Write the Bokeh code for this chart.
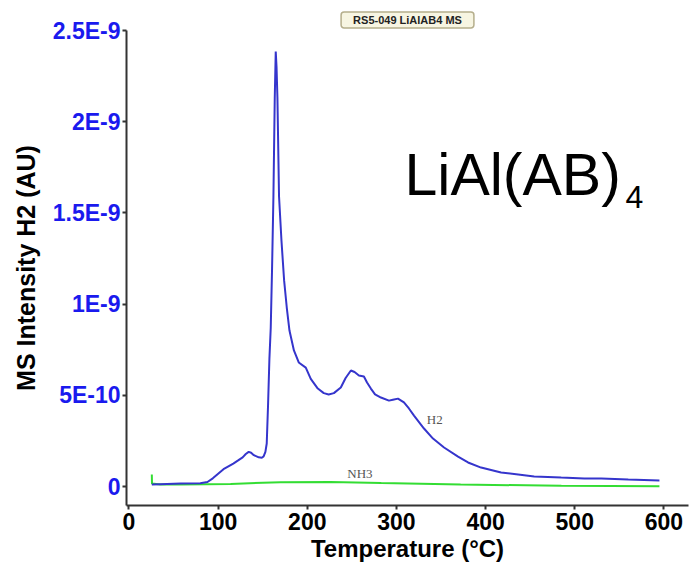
import numpy as np
from bokeh.plotting import figure
from bokeh.models import Range1d, FixedTicker, Label
from bokeh.embed import file_html
from bokeh.resources import INLINE

# ---- data ----
temp_h2 = [25.6, 35, 58, 80, 88, 94, 100, 106, 112, 117, 122, 127.5, 131,
           134.3, 137, 140, 145.5, 149, 151, 153, 154.5, 156, 157.5, 159,
           160.5, 162, 163.5, 164.6, 165.5, 166.5, 168.3, 171, 174, 177, 180,
           185, 190.4, 198.3, 203.9, 211.8, 218.5, 224, 229.8, 237.6, 243,
           248.9, 253, 257.9, 263.5, 267, 271.3, 276, 282.6, 291.6, 296,
           301.7, 308.4, 314, 319.7, 330.9, 341, 353.4, 369.1, 380.3, 394.9,
           417.4, 436.5, 454.5, 484.8, 510.7, 529.8, 560, 595]
h2_nano = [0.011, 0.013, 0.016, 0.018, 0.025, 0.045, 0.07, 0.095, 0.112,
           0.126, 0.142, 0.160, 0.178, 0.190, 0.185, 0.172, 0.160, 0.158,
           0.165, 0.19, 0.236, 0.45, 0.70, 0.87, 1.20, 1.59, 2.13, 2.385,
           2.30, 2.13, 1.59, 1.35, 1.13, 0.98, 0.855, 0.746, 0.68, 0.652,
           0.590, 0.537, 0.512, 0.505, 0.512, 0.543, 0.595, 0.636, 0.628,
           0.609, 0.603, 0.570, 0.537, 0.505, 0.488, 0.471, 0.476, 0.482,
           0.461, 0.428, 0.389, 0.318, 0.263, 0.214, 0.164, 0.132, 0.104,
           0.077, 0.066, 0.055, 0.049, 0.044, 0.044, 0.038, 0.033]
temp_nh3 = [25.6, 25.8, 35, 58, 114, 170, 226, 283, 372, 485, 595]
nh3_nano = [0.066, 0.016, 0.011, 0.011, 0.014, 0.024, 0.025, 0.019, 0.011,
            0.004, 0.002]

x_ticks = [0, 100, 200, 300, 400, 500, 600]
y_ticks = [0.0, 5e-10, 1e-9, 1.5e-9, 2e-9, 2.5e-9]
y_tick_labels = ["0", "5E-10", "1E-9", "1.5E-9", "2E-9", "2.5E-9"]

h2 = np.array(h2_nano) * 1e-9
nh3 = np.array(nh3_nano) * 1e-9

FONT = "Liberation Sans"

p = figure(width=692, height=569, output_backend="svg", toolbar_location=None,
           x_range=Range1d(-2.8, 627.6), y_range=Range1d(-0.104e-9, 2.5e-9),
           min_border_left=126, min_border_right=4, min_border_top=30,
           min_border_bottom=64)
p.outline_line_color = None
p.xgrid.visible = False
p.ygrid.visible = False
p.background_fill_color = "white"

p.line(temp_nh3, nh3, line_color="#33dd33", line_width=2)
p.line(temp_h2, h2, line_color="#3535cc", line_width=2)

# axes
for ax in (p.xaxis[0], p.yaxis[0]):
    ax.axis_line_color = "#333333"
    ax.axis_line_width = 2
    ax.major_tick_line_color = "#333333"
    ax.major_tick_line_width = 2
    ax.major_tick_in = 0
    ax.major_tick_out = 4
    ax.minor_tick_line_color = None
    ax.major_label_text_font = FONT
    ax.major_label_text_font_style = "bold"
    ax.axis_label_text_font = FONT
    ax.axis_label_text_font_style = "bold"
    ax.axis_label_text_color = "black"

p.xaxis.ticker = FixedTicker(ticks=x_ticks)
p.xaxis.major_label_text_font_size = "23px"
p.xaxis.major_label_text_color = "black"
p.xaxis.major_label_standoff = 3
p.xaxis.axis_label = "Temperature (°C)"
p.xaxis.axis_label_text_font_size = "24px"
p.xaxis.axis_label_standoff = 2

p.yaxis.ticker = FixedTicker(ticks=y_ticks)
p.yaxis.major_label_overrides = {t: s for t, s in zip(y_ticks, y_tick_labels)}
p.yaxis.major_label_text_font_size = "23px"
p.yaxis.major_label_text_color = "#1a1aee"
p.yaxis.major_label_standoff = 2
p.yaxis.axis_label = "MS Intensity H2 (AU)"
p.yaxis.axis_label_text_font_size = "25px"
p.yaxis.axis_label_standoff = 10

# title box
p.title.text = "RS5-049 LiAlAB4 MS"
p.title.align = "center"
p.title.text_font = FONT
p.title.text_font_style = "bold"
p.title.text_font_size = "11px"
p.title.text_color = "#222222"
p.title.background_fill_color = "#f7f5e2"
p.title.border_line_color = "#b5ae8c"
p.title.border_line_width = 1.5
p.title.padding = dict(left=12, right=12, top=2, bottom=2)
p.title.border_radius = 3
p.title.standoff = 5
p.title.offset = 0

# series labels
p.add_layout(Label(x=343, y=0.367e-9, text="H2", text_font="Liberation Serif",
                   text_font_size="13px", text_color="#555555",
                   text_align="center", text_baseline="middle"))
p.add_layout(Label(x=259, y=0.073e-9, text="NH3", text_font="Liberation Serif",
                   text_font_size="13px", text_color="#555555",
                   text_align="center", text_baseline="middle"))

# compound label
p.add_layout(Label(x=309, y=1.71e-9, text="LiAl(AB)", text_font=FONT,
                   text_font_size="59px", text_color="black",
                   text_align="left", text_baseline="alphabetic"))
p.add_layout(Label(x=557, y=1.585e-9, text="4", text_font=FONT,
                   text_font_size="32px", text_color="black",
                   text_align="left", text_baseline="alphabetic"))

open("out.html", "w").write(file_html(p, INLINE))
